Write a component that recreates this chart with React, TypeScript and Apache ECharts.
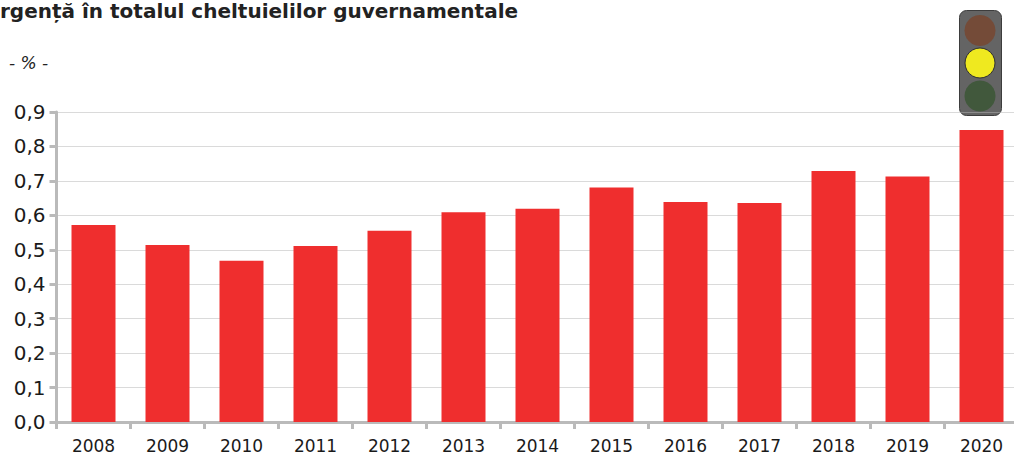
import React, { useEffect, useRef } from "react";
import * as echarts from "echarts";

const categories = ["2008","2009","2010","2011","2012","2013","2014","2015","2016","2017","2018","2019","2020"];
const values = [0.572,0.514,0.468,0.511,0.555,0.609,0.619,0.681,0.639,0.636,0.729,0.713,0.848];
const titleText = "rgență în totalul cheltuielilor guvernamentale";
const unitText = "- % -";
const FONT = "'DejaVu Sans', sans-serif";

export default function App() {
  const ref = useRef<HTMLDivElement>(null);
  useEffect(() => {
    document.body.style.margin = "0";
    document.documentElement.style.overflow = "hidden";
    const chart = echarts.init(ref.current!, undefined, { renderer: "svg" });
    chart.setOption({
      animation: false,
      backgroundColor: "#ffffff",
      grid: { left: 56.5, top: 112, width: 962, height: 310.5, containLabel: false },
      xAxis: {
        type: "category",
        data: categories,
        axisLine: { show: true, lineStyle: { color: "#bababa", width: 3 } },
        axisTick: { show: true, alignWithLabel: false, length: 7, lineStyle: { color: "#bababa", width: 3 } },
        axisLabel: { color: "#1a1a1a", fontFamily: FONT, fontSize: 17, margin: 15, interval: 0 },
        splitLine: { show: false },
      },
      yAxis: {
        type: "value",
        min: 0,
        max: 0.9,
        interval: 0.1,
        axisLine: { show: true, lineStyle: { color: "#bababa", width: 3 } },
        axisTick: { show: true, length: 7, lineStyle: { color: "#bababa", width: 3 } },
        axisLabel: {
          color: "#1a1a1a",
          fontFamily: FONT,
          fontSize: 20,
          margin: 11,
          formatter: (v: number) => v.toFixed(1).replace(".", ","),
        },
        splitLine: { show: true, lineStyle: { color: "#b4b4b4", type: [1, 1], width: 1 } },
      },
      series: [
        {
          type: "bar",
          data: values,
          barWidth: 44,
          itemStyle: { color: "#ef2e2e" },
          z: 3,
        },
      ],
      graphic: [
        { type: "text", left: 0, top: 1, style: { text: titleText, fill: "#222222", fontFamily: FONT, fontWeight: "bold", fontSize: 20 } },
        { type: "text", left: 9, top: 54, style: { text: unitText, fill: "#222222", fontFamily: FONT, fontStyle: "italic", fontSize: 17 } },
        {
          type: "group",
          z: 10,
          children: [
            { type: "rect", shape: { x: 959.5, y: 10.5, width: 42, height: 105, r: 7 }, style: { fill: "#646464", stroke: "#3d3d3d", lineWidth: 1 } },
            { type: "circle", shape: { cx: 980, cy: 30.5, r: 15.5 }, style: { fill: "#744b38" } },
            { type: "circle", shape: { cx: 980, cy: 63, r: 15 }, style: { fill: "#efe91f", stroke: "#2f2f2f", lineWidth: 1 } },
            { type: "circle", shape: { cx: 980, cy: 96, r: 15.5 }, style: { fill: "#41583c" } },
          ],
        },
      ],
    });
    return () => chart.dispose();
  }, []);
  return (
    <div style={{ width: 1014, height: 454, overflow: "hidden" }}>
      <div ref={ref} style={{ width: 1040, height: 454 }} />
    </div>
  );
}
